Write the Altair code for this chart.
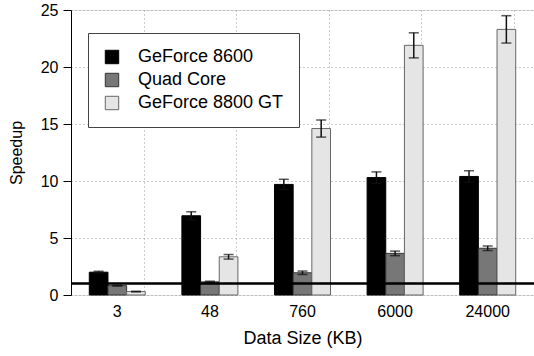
import altair as alt
import pandas as pd

categories = ["3", "48", "760", "6000", "24000"]
series_order = ["GeForce 8600", "Quad Core", "GeForce 8800 GT"]

gf8600 = [2.0, 6.95, 9.7, 10.3, 10.4]
gf8600_err = [0.08, 0.35, 0.45, 0.5, 0.5]
quad = [0.82, 1.15, 1.95, 3.65, 4.1]
quad_err = [0.04, 0.06, 0.15, 0.2, 0.2]
gt8800 = [0.3, 3.35, 14.6, 21.9, 23.3]
gt8800_err = [0.03, 0.2, 0.75, 1.1, 1.2]

rows = []
for name, vals, errs in [("GeForce 8600", gf8600, gf8600_err),
                         ("Quad Core", quad, quad_err),
                         ("GeForce 8800 GT", gt8800, gt8800_err)]:
    for c, v, e in zip(categories, vals, errs):
        rows.append({"cat": c, "series": name, "value": v, "lo": v - e, "hi": v + e})
df = pd.DataFrame(rows)
cat_df = pd.DataFrame({"cat": categories})

FONT = "Liberation Sans"

x_enc = alt.X("cat:N", sort=categories,
              scale=alt.Scale(domain=categories, paddingInner=0, paddingOuter=0),
              axis=alt.Axis(title="Data Size (KB)", domain=False, ticks=False, labelAngle=0,
                            grid=True, bandPosition=0.79,
                            gridDash=[1, 3], gridColor="#999999",
                            labelFontSize=16, titleFontSize=18, labelPadding=8,
                            titlePadding=10, labelColor="black", titleColor="black",
                            titleFontWeight="normal", labelFont=FONT, titleFont=FONT))
xoff_enc = alt.XOffset("series:N", sort=series_order,
                       scale=alt.Scale(domain=series_order, paddingInner=0, paddingOuter=0.98))
y_scale = alt.Scale(domain=[0, 25], nice=False)

legend_def = alt.Legend(title=None, orient="none", legendX=17, legendY=23,
                        symbolType="square", symbolSize=180, labelFontSize=18,
                        labelFont=FONT, labelColor="black", labelOffset=17,
                        padding=15, rowPadding=5, strokeColor="#444444",
                        fillColor="white", symbolStrokeWidth=1, symbolOpacity=1)

bars = alt.Chart(df).mark_bar(strokeWidth=1).encode(
    x=x_enc,
    xOffset=xoff_enc,
    y=alt.Y("value:Q", scale=y_scale,
            axis=alt.Axis(title="Speedup", values=[0, 5, 10, 15, 20, 25], grid=True,
                          gridDash=[1, 3], gridColor="#999999", tickSize=8, tickColor="black",
                          domainColor="black", labelFontSize=16, titleFontSize=16,
                          labelPadding=5, titlePadding=16, labelColor="black",
                          titleColor="black", titleFontWeight="normal",
                          labelFont=FONT, titleFont=FONT)),
    fill=alt.Fill("series:N", sort=series_order,
                  scale=alt.Scale(domain=series_order, range=["#000000", "#777777", "#e5e5e5"]),
                  legend=legend_def),
    stroke=alt.Stroke("series:N", sort=series_order,
                      scale=alt.Scale(domain=series_order, range=["#000000", "#333333", "#666666"]),
                      legend=legend_def),
)

err_line = alt.Chart(df).mark_rule(color="#111111", strokeWidth=1.5).encode(
    x=x_enc, xOffset=xoff_enc,
    y=alt.Y("lo:Q", scale=y_scale), y2="hi:Q"
)
cap_lo = alt.Chart(df).mark_tick(color="#111111", size=10, thickness=1.5, orient="horizontal").encode(
    x=x_enc, xOffset=xoff_enc, y=alt.Y("lo:Q", scale=y_scale)
)
cap_hi = alt.Chart(df).mark_tick(color="#111111", size=10, thickness=1.5, orient="horizontal").encode(
    x=x_enc, xOffset=xoff_enc, y=alt.Y("hi:Q", scale=y_scale)
)

one_line = alt.Chart(cat_df).mark_rule(color="black", strokeWidth=1.5).encode(
    y=alt.datum(1, scale=y_scale), x=alt.value(0), x2=alt.value(463)
)

chart = alt.layer(bars, err_line, cap_lo, cap_hi, one_line).properties(
    width=463, height=285,
    autosize=alt.AutoSizeParams(type="none"),
    padding={"left": 71, "top": 10, "right": 0, "bottom": 61},
).configure_view(stroke=None).configure(background="white")

chart.save("out.html", embed_options={"renderer": "svg", "actions": False})
